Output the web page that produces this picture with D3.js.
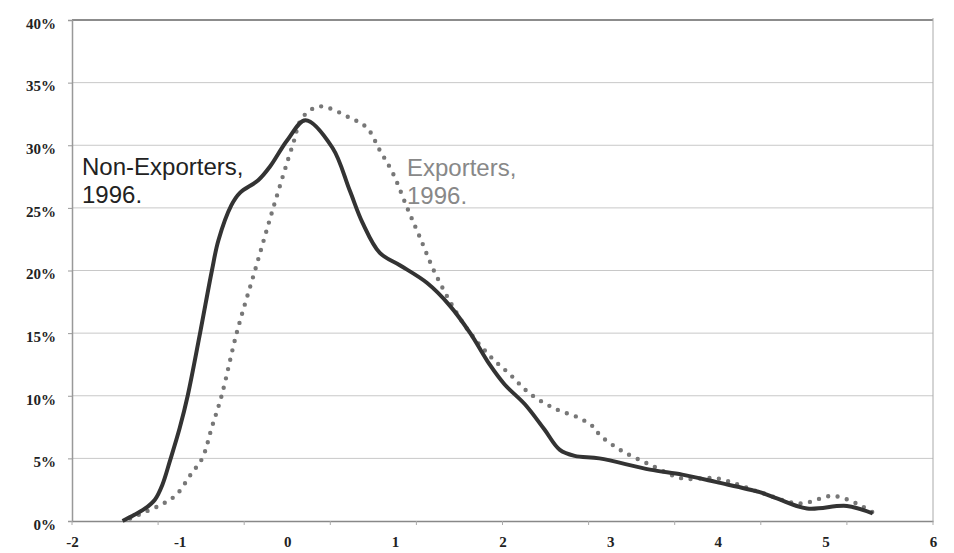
<!DOCTYPE html>
<html>
<head>
<meta charset="utf-8">
<script src="https://cdn.jsdelivr.net/npm/d3@7"></script>
<style>
  body { margin: 0; background: #fff; }
  .ylab { font-family: "Liberation Serif", "Times New Roman", serif; font-weight: bold; font-size: 15px; fill: #222; }
  .lbl { font-family: "Liberation Sans", Arial, sans-serif; font-size: 24px; }
</style>
</head>
<body>
<div id="chart"></div>
<script>
// values (x = log score, y = share of firms)
const nonExpX = [-1.53, -1.42, -1.32, -1.23, -1.16, -1.09, -1.00, -0.925, -0.81, -0.70, -0.64, -0.52, -0.44, -0.27, -0.16, 0.0, 0.17, 0.42, 0.58, 0.70, 0.86, 1.05, 1.30, 1.51, 1.70, 1.88, 2.02, 2.21, 2.39, 2.53, 2.67, 2.90, 3.37, 3.67, 3.99, 4.39, 4.55, 4.83, 5.20, 5.44]
const nonExpY = [0, 0.5, 1.0, 1.7, 2.9, 4.8, 7.4, 10, 15, 20, 22.4, 25.2, 26.2, 27.2, 28.3, 30.4, 32, 29.8, 26.4, 23.8, 21.4, 20.4, 19, 17.2, 15, 12.5, 10.9, 9.3, 7.3, 5.7, 5.2, 5.0, 4.1, 3.7, 3.1, 2.3, 1.8, 1.0, 1.2, 0.6]

const expX = [-1.46, -1.30, -1.15, -1.03, -0.89, -0.79, -0.70, -0.61, -0.47, -0.30, -0.13, 0.05, 0.14, 0.30, 0.58, 0.74, 0.86, 0.98, 1.11, 1.23, 1.39, 1.65, 1.88, 2.07, 2.25, 2.48, 2.72, 2.86, 2.90, 3.09, 3.37, 3.67, 3.99, 4.39, 4.76, 5.07, 5.29, 5.44]
const expY = [0.2, 0.8, 1.4, 2.1, 3.8, 5.0, 7.5, 10, 15, 20, 25, 30, 32.2, 33.1, 32.2, 31.4, 29.6, 27.8, 25.1, 22.7, 19.5, 15.6, 13.2, 11.7, 10.2, 9, 8.2, 7.4, 6.9, 5.7, 4.5, 3.4, 3.4, 2.3, 1.4, 2.0, 1.4, 0.7]

const xTicks = [-2, -1, 0, 1, 2, 3, 4, 5, 6]
const yTicks = [0, 5, 10, 15, 20, 25, 30, 35, 40]

const width = 954, height = 553
const m = {left: 72, right: 21, top: 20, bottom: 32}

const svg = d3.select("#chart").append("svg")
    .attr("width", width)
    .attr("height", height)

const x = d3.scaleLinear().domain([-2, 6]).range([m.left, width - m.right])
const y = d3.scaleLinear().domain([0, 40]).range([height - m.bottom, m.top])

// gridlines
svg.append("g")
    .selectAll("line")
    .data(yTicks.filter(d => d > 0 && d < 40))
    .join("line")
    .attr("x1", x(-2)).attr("x2", x(6))
    .attr("y1", d => y(d)).attr("y2", d => y(d))
    .attr("stroke", "#c8c8c8")
    .attr("stroke-width", 1)

// top and right frame
svg.append("line")
    .attr("x1", x(-2)).attr("x2", x(6))
    .attr("y1", y(40)).attr("y2", y(40))
    .attr("stroke", "#666").attr("stroke-width", 1.5)
svg.append("line")
    .attr("x1", x(6)).attr("x2", x(6))
    .attr("y1", y(40) - 2).attr("y2", y(0))
    .attr("stroke", "#aaa").attr("stroke-width", 1)

// y axis
let yAxis = d3.axisLeft(y)
    .tickValues(yTicks)
    .tickSize(4)
    .tickPadding(12)
    .tickFormat(d => d + "%")
let gy = svg.append("g")
    .attr("transform", `translate(${m.left},0)`)
    .call(yAxis)
gy.select(".domain").attr("stroke", "#999").attr("stroke-width", 1.5)
gy.selectAll(".tick line").attr("stroke", "#999")
gy.selectAll(".tick text").attr("class", "ylab").attr("dy", "0.55em")

// x axis: labels at integers, tick marks at tenths of the range (as in the original)
let xAxis = d3.axisBottom(x)
    .tickValues(xTicks)
    .tickSize(0)
    .tickPadding(15)
    .tickFormat(d => d)
let gx = svg.append("g")
    .attr("transform", `translate(0,${y(0)})`)
    .call(xAxis)
gx.select(".domain").attr("stroke", "#888").attr("stroke-width", 1.5)
gx.selectAll(".tick text").attr("class", "ylab")

svg.append("g")
    .selectAll("line")
    .data(d3.range(11))
    .join("line")
    .attr("x1", d => x(-2 + d * 0.8)).attr("x2", d => x(-2 + d * 0.8))
    .attr("y1", y(0)).attr("y2", y(0) + 4)
    .attr("stroke", "#aaa")

const line = d3.line()
    .curve(d3.curveCatmullRom.alpha(0.5))
    .x(d => x(d[0]))
    .y(d => y(d[1]))

// exporters: dotted
svg.append("path")
    .datum(d3.zip(expX, expY))
    .attr("fill", "none")
    .attr("stroke", "#777")
    .attr("stroke-width", 4.4)
    .attr("stroke-linecap", "round")
    .attr("stroke-dasharray", "0 9.5")
    .attr("d", line)

// non-exporters: solid
svg.append("path")
    .datum(d3.zip(nonExpX, nonExpY))
    .attr("fill", "none")
    .attr("stroke", "#333")
    .attr("stroke-width", 4)
    .attr("stroke-linejoin", "round")
    .attr("d", line)

// labels
let t1 = svg.append("text").attr("class", "lbl").attr("fill", "#222")
    .attr("x", 82).attr("y", 175)
t1.append("tspan").attr("x", 82).text("Non-Exporters,")
t1.append("tspan").attr("x", 82).attr("dy", 28).text("1996.")

let t2 = svg.append("text").attr("class", "lbl").attr("fill", "#888")
    .attr("x", 407).attr("y", 176)
t2.append("tspan").attr("x", 407).text("Exporters,")
t2.append("tspan").attr("x", 407).attr("dy", 28).text("1996.")
</script>
</body>
</html>
